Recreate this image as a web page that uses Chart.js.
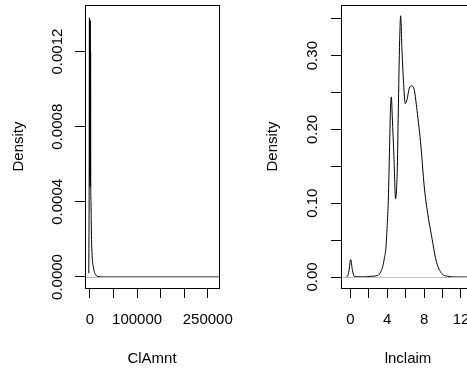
<!DOCTYPE html>
<html>
<head>
<meta charset="utf-8">
<script src="https://cdn.jsdelivr.net/npm/chart.js@4"></script>
<style>
  html, body { margin: 0; padding: 0; background: #fff; overflow: hidden; }
  #wrap { position: relative; width: 511px; height: 369px; }
  canvas { position: absolute; top: 0; }
  #ClAmnt { left: 0; }
  #lnclaim { left: 256px; }
</style>
</head>
<body>
<div id="wrap">
  <canvas id="ClAmnt" width="255" height="369"></canvas>
  <canvas id="lnclaim" width="255" height="369"></canvas>
</div>
<script>
// Density of ClAmnt
const clamntX = [-2600, -1800, -1200, -700, -300, 100, 500, 900, 1300, 1700, 2100, 2600, 3300, 4200, 5500, 7000, 9000, 12000, 16000, 30000, 100000, 200000, 280000];
const clamntY = [0.00002, 0.00046, 0.00138, 0.00052, 0.00137, 0.00048, 0.00136, 0.0005, 0.0012, 0.00045, 0.0004, 0.0003, 0.0002, 0.00013, 0.00008, 0.000055, 0.00003, 0.000012, 0.000003, 0, 0, 0, 0];
const clamntXTicks = [0, 50000, 100000, 150000, 200000, 250000];
const clamntXLabels = ['0', '', '100000', '', '', '250000'];
const clamntYTicks = [0, 0.0002, 0.0004, 0.0006, 0.0008, 0.001, 0.0012, 0.0014];
const clamntYLabels = ['0.0000', '', '0.0004', '', '0.0008', '', '0.0012', ''];

// Density of lnclaim
const lnclaimX = [-0.45, -0.3, -0.15, 0.04, 0.22, 0.43, 0.8, 1.5, 2.24, 2.96, 3.3, 3.51, 3.7, 3.87, 4.0, 4.12, 4.26, 4.34, 4.45, 4.55, 4.73, 4.91, 5.02, 5.1, 5.2, 5.35, 5.46, 5.6, 5.78, 5.96, 6.14, 6.4, 6.65, 6.94, 7.23, 7.66, 8.02, 8.39, 8.82, 9.29, 9.83, 10.55, 11.5, 12.5, 13.6];
const lnclaimY = [0, 0.001, 0.008, 0.0235, 0.01, 0.001, 0.0003, 0.0002, 0.001, 0.002, 0.007, 0.014, 0.026, 0.041, 0.07, 0.104, 0.177, 0.222, 0.244, 0.217, 0.163, 0.106, 0.12, 0.15, 0.222, 0.321, 0.354, 0.308, 0.262, 0.235, 0.24, 0.256, 0.259, 0.253, 0.226, 0.177, 0.122, 0.086, 0.055, 0.023, 0.006, 0.001, 0, 0, 0];
const lnclaimXTicks = [0, 2, 4, 6, 8, 10, 12];
const lnclaimXLabels = ['0', '', '4', '', '8', '', '12'];
const lnclaimYTicks = [0, 0.05, 0.1, 0.15, 0.2, 0.25, 0.3, 0.35];
const lnclaimYLabels = ['0.00', '', '0.10', '', '0.20', '', '0.30', ''];

const FONT = { family: "'Liberation Sans', Arial, sans-serif", size: 15 };

// R style box round the plot region and the grey zero line on top of the curve
const rBox = {
    id: 'rBox',
    afterDatasetsDraw(chart) {
        const { ctx, chartArea: a, scales: { y } } = chart;
        const y0 = Math.round(y.getPixelForValue(0)) + 0.5;
        ctx.save();
        ctx.strokeStyle = '#bebebe';
        ctx.lineWidth = 1;
        ctx.beginPath();
        ctx.moveTo(a.left, y0);
        ctx.lineTo(a.right, y0);
        ctx.stroke();
        ctx.restore();
    },
    afterDraw(chart) {
        const { ctx, chartArea: a } = chart;
        ctx.save();
        ctx.strokeStyle = '#000';
        ctx.lineWidth = 1;
        ctx.strokeRect(Math.round(a.left) + 0.5, Math.round(a.top) + 0.5,
            Math.round(a.right - a.left), Math.round(a.bottom - a.top));
        ctx.restore();
    }
};

function densityChart(id, xs, ys, opt) {
    return new Chart(id, {
        type: 'line',
        data: {
            datasets: [{
                data: xs.map((x, i) => ({ x: x, y: ys[i] })),
                borderColor: '#000',
                borderWidth: 1,
                pointRadius: 0,
                cubicInterpolationMode: 'monotone',
                fill: false
            }]
        },
        options: {
            responsive: false,
            animation: false,
            devicePixelRatio: 1,
            layout: { padding: { left: 0, right: 36, top: 5, bottom: 0 } },
            plugins: { legend: { display: false }, tooltip: { enabled: false } },
            scales: {
                x: {
                    type: 'linear',
                    min: opt.xMin,
                    max: opt.xMax,
                    afterBuildTicks: s => { s.ticks = opt.xTicks.map(v => ({ value: v })); },
                    afterFit: s => { s.height = 81; s.paddingLeft = 0; s.paddingRight = 0; },
                    grid: { drawOnChartArea: false, tickLength: 10, color: '#000' },
                    border: { display: true, color: '#000' },
                    ticks: {
                        autoSkip: false,
                        maxRotation: 0,
                        padding: 13,
                        color: '#000',
                        font: FONT,
                        callback: (v, i) => opt.xLabels[i]
                    },
                    title: { display: true, text: opt.xTitle, color: '#000', font: FONT, padding: { top: 0, bottom: 1 } }
                },
                y: {
                    type: 'linear',
                    min: opt.yMin,
                    max: opt.yMax,
                    afterBuildTicks: s => { s.ticks = opt.yTicks.map(v => ({ value: v })); },
                    afterFit: s => { s.width = opt.yWidth; s.paddingTop = 0; s.paddingBottom = 0; },
                    grid: { drawOnChartArea: false, tickLength: 10, color: '#000' },
                    border: { display: true, color: '#000' },
                    ticks: {
                        minRotation: 90,
                        maxRotation: 90,
                        crossAlign: 'center',
                        padding: opt.yPad,
                        color: '#000',
                        font: FONT,
                        callback: (v, i) => opt.yLabels[i]
                    },
                    title: { display: true, text: 'Density', color: '#000', font: FONT, padding: { top: opt.yTitlePad, bottom: 0 } }
                }
            }
        },
        plugins: [rBox]
    });
}

densityChart('ClAmnt', clamntX, clamntY, {
    xMin: -10600, xMax: 273900, yMin: -0.0000586, yMax: 0.001448,
    xTicks: clamntXTicks, xLabels: clamntXLabels,
    yTicks: clamntYTicks, yLabels: clamntYLabels,
    xTitle: 'ClAmnt', yWidth: 85, yPad: -6, yTitlePad: 10
});

densityChart('lnclaim', lnclaimX, lnclaimY, {
    xMin: -1.01, xMax: 13.52, yMin: -0.0149, yMax: 0.3686,
    xTicks: lnclaimXTicks, xLabels: lnclaimXLabels,
    yTicks: lnclaimYTicks, yLabels: lnclaimYLabels,
    xTitle: 'lnclaim', yWidth: 85, yPad: 4, yTitlePad: 8
});
</script>
</body>
</html>
